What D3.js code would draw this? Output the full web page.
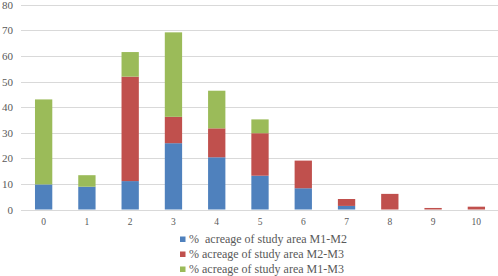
<!DOCTYPE html>
<html>
<head>
<meta charset="utf-8">
<script src="https://cdn.jsdelivr.net/npm/d3@7"></script>
<style>
body { margin: 0; background: #fff; }
</style>
</head>
<body>
<svg id="svg"></svg>
<script>
var categories = ["0","1","2","3","4","5","6","7","8","9","10"];
var seriesNames = ["%  acreage of study area M1-M2", "% acreage of study area M2-M3", "% acreage of study area M1-M3"];
var m1m2 = [9.8, 8.9, 11.1, 25.9, 20.4, 13.2, 8.3, 1.4, 0, 0, 0];
var m2m3 = [0, 0, 40.8, 10.3, 11.3, 16.6, 10.8, 2.7, 6.1, 0.6, 1.1];
var m1m3 = [33.2, 4.5, 9.6, 33.0, 14.7, 5.4, 0, 0, 0, 0, 0];
var yTicks = [0, 10, 20, 30, 40, 50, 60, 70, 80];
var colors = ["#4F81BD", "#C0504D", "#9BBB59"];

var width = 498, height = 276;
var svg = d3.select("#svg").attr("width", width).attr("height", height)
	.attr("font-family", "'Liberation Serif', 'DejaVu Serif', serif");

var rows = categories.map(function(c, i) {
	return {cat: c, a: m1m2[i], b: m2m3[i], c: m1m3[i]};
});
var stack = d3.stack().keys(["a", "b", "c"])(rows);

var x = d3.scaleBand().domain(categories).range([22, 498]).paddingInner(0.6).paddingOuter(0.3);
var y = d3.scaleLinear().domain([0, 80]).range([209.5, 4.7]);

// gridlines
svg.append("g").selectAll("line").data(yTicks).enter().append("line")
	.attr("x1", 21).attr("x2", width)
	.attr("y1", function(d) { return Math.round(y(d)) + 0.5; })
	.attr("y2", function(d) { return Math.round(y(d)) + 0.5; })
	.attr("stroke", "#D9D9D9").attr("stroke-width", 1);

svg.append("g").selectAll("text").data(yTicks).enter().append("text")
	.attr("x", 13).attr("y", function(d) { return y(d) + 4; })
	.attr("text-anchor", "end").attr("font-size", 11).attr("fill", "#595959")
	.text(function(d) { return d; });

svg.append("g").selectAll("g").data(stack).enter().append("g")
	.attr("fill", function(d, i) { return colors[i]; })
	.selectAll("rect").data(function(d) { return d; }).enter().append("rect")
	.attr("x", function(d) { return x(d.data.cat); })
	.attr("width", x.bandwidth())
	.attr("y", function(d) { return y(d[1]); })
	.attr("height", function(d) { return y(d[0]) - y(d[1]); });

svg.append("g").selectAll("text").data(categories).enter().append("text")
	.attr("x", function(d) { return x(d) + x.bandwidth() / 2; })
	.attr("y", 225).attr("text-anchor", "middle").attr("font-size", 9.5).attr("fill", "#595959")
	.text(function(d) { return d; });

var leg = svg.append("g").selectAll("g").data(seriesNames).enter().append("g")
	.attr("transform", function(d, i) { return "translate(180," + (239 + i * 15) + ")"; });
leg.append("rect").attr("x", 0).attr("y", -2.5).attr("width", 5.5).attr("height", 5.5)
	.attr("fill", function(d, i) { return colors[i]; });
leg.append("text").attr("x", 9).attr("y", 4).attr("font-size", 12).attr("fill", "#595959")
	.style("white-space", "pre")
	.text(function(d) { return d; });
</script>
</body>
</html>
